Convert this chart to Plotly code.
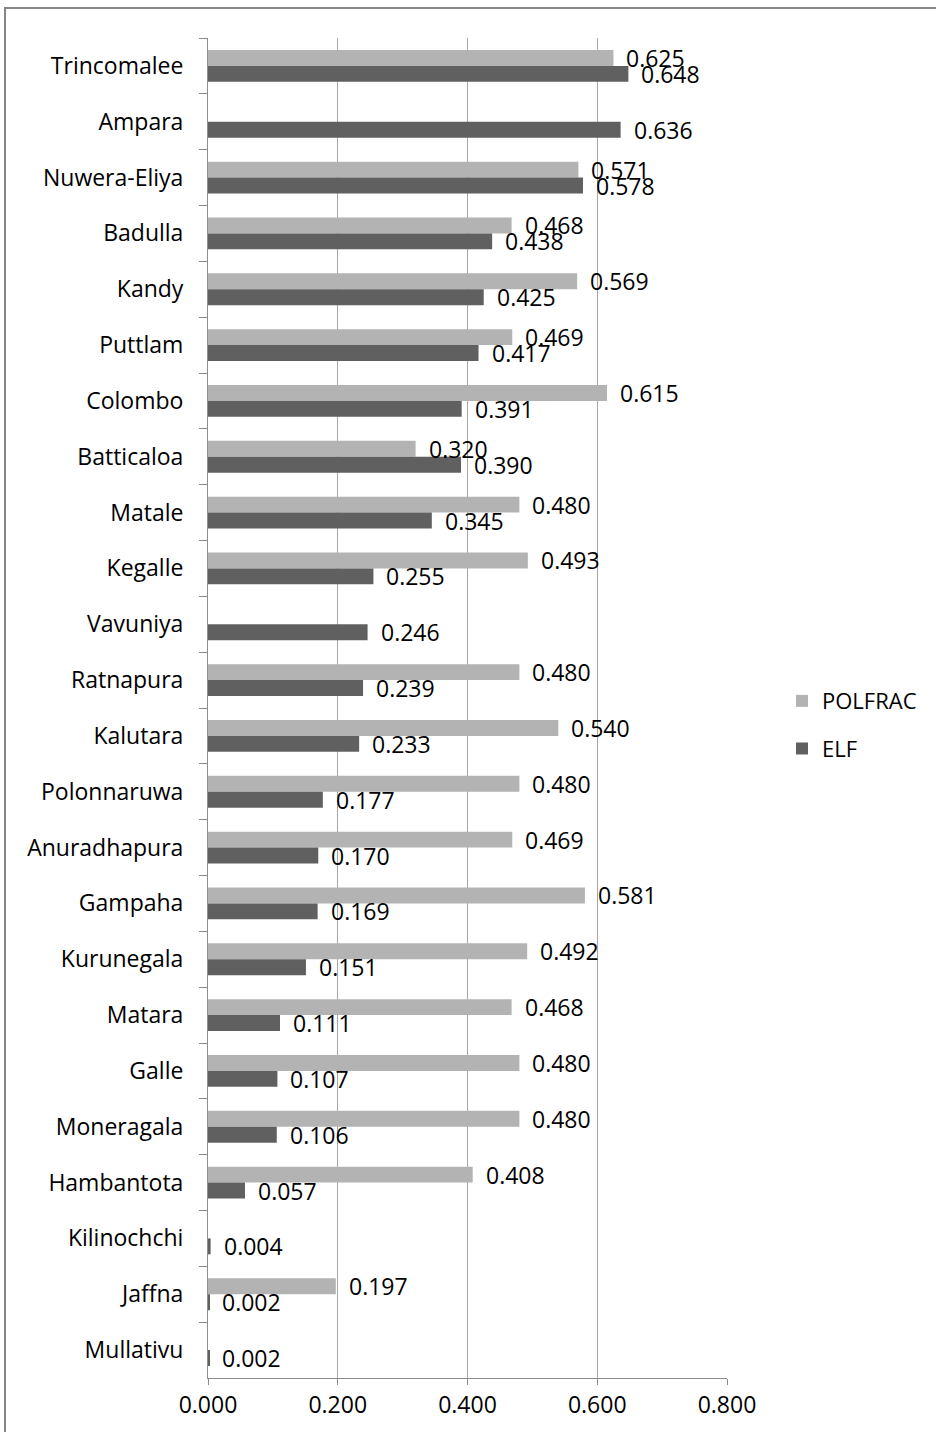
import plotly.graph_objects as go

# Districts listed top to bottom as shown on the chart
districts = [
    "Trincomalee", "Ampara", "Nuwera-Eliya", "Badulla", "Kandy", "Puttlam",
    "Colombo", "Batticaloa", "Matale", "Kegalle", "Vavuniya", "Ratnapura",
    "Kalutara", "Polonnaruwa", "Anuradhapura", "Gampaha", "Kurunegala",
    "Matara", "Galle", "Moneragala", "Hambantota", "Kilinochchi", "Jaffna",
    "Mullativu",
]

# Political fractionalisation (None where no value is reported)
polfrac = [
    0.625, None, 0.571, 0.468, 0.569, 0.469, 0.615, 0.320, 0.480, 0.493,
    None, 0.480, 0.540, 0.480, 0.469, 0.581, 0.492, 0.468, 0.480, 0.480,
    0.408, None, 0.197, None,
]

# Ethno-linguistic fractionalisation
elf = [
    0.648, 0.636, 0.578, 0.438, 0.425, 0.417, 0.391, 0.390, 0.345, 0.255,
    0.246, 0.239, 0.233, 0.177, 0.170, 0.169, 0.151, 0.111, 0.107, 0.106,
    0.057, 0.004, 0.002, 0.002,
]

x_ticks = [0.0, 0.2, 0.4, 0.6, 0.8]

FONT = "Open Sans"
C_POL = "#B3B3B3"
C_ELF = "#606060"

W, H = 936, 1432
ML, MR, MT, MB = 208, 209, 38, 50

fig = go.Figure()
fig.add_trace(go.Bar(
    name="POLFRAC", y=districts, x=polfrac, orientation="h",
    marker=dict(color=C_POL, line=dict(width=0)), legendgroup="p",
    hoverinfo="x+y",
))
fig.add_trace(go.Bar(
    name="ELF", y=districts, x=elf, orientation="h",
    marker=dict(color=C_ELF, line=dict(width=0)), legendgroup="e",
    hoverinfo="x+y",
))

# Value labels just to the right of each bar end
annotations = []
for series, dy in ((polfrac, -8), (elf, 8)):
    for name, v in zip(districts, series):
        if v is None:
            continue
        annotations.append(dict(
            x=v, y=name, xref="x", yref="y", text=f"{v:.3f}",
            showarrow=False, xanchor="left", yanchor="middle",
            xshift=11, yshift=-dy,
            font=dict(family=FONT, size=23, color="#000000"),
        ))

# Chart-area border
def px_x(p):
    return (p - ML) / (W - ML - MR)

def px_y(p):
    return 1 - (p - MT) / (H - MT - MB)

shapes = [dict(
    type="rect", xref="paper", yref="paper",
    x0=px_x(5), x1=px_x(960), y0=px_y(1460), y1=px_y(8),
    line=dict(color="#868686", width=2), fillcolor="rgba(0,0,0,0)",
    layer="below",
)]

fig.update_layout(
    width=W, height=H,
    margin=dict(l=ML, r=MR, t=MT, b=MB, pad=0),
    paper_bgcolor="white", plot_bgcolor="white",
    barmode="group", bargap=0.43, bargroupgap=0,
    font=dict(family=FONT, size=23, color="#000000"),
    showlegend=True,
    legend=dict(
        x=px_x(782), y=px_y(682), xanchor="left", yanchor="top",
        font=dict(family=FONT, size=22, color="#000000"),
        traceorder="grouped", tracegroupgap=16,
        bgcolor="rgba(0,0,0,0)",
    ),
    annotations=annotations,
    shapes=shapes,
    xaxis=dict(
        range=[0, 0.8], tickvals=x_ticks, tickformat=".3f",
        showgrid=True, gridcolor="#A6A6A6", gridwidth=1,
        showline=True, linecolor="#8C8C8C", linewidth=1,
        ticks="outside", ticklen=6, tickcolor="#8C8C8C",
        zeroline=False, fixedrange=True,
        tickfont=dict(family=FONT, size=23, color="#000000"),
    ),
    yaxis=dict(
        autorange="reversed", type="category",
        showline=True, linecolor="#8C8C8C", linewidth=1,
        ticks="outside", ticklen=8, tickcolor="#8C8C8C",
        tickson="boundaries", showgrid=False, zeroline=False,
        ticklabelstandoff=19, fixedrange=True,
        tickfont=dict(family=FONT, size=23, color="#000000"),
    ),
)

fig.write_html("out.html")
